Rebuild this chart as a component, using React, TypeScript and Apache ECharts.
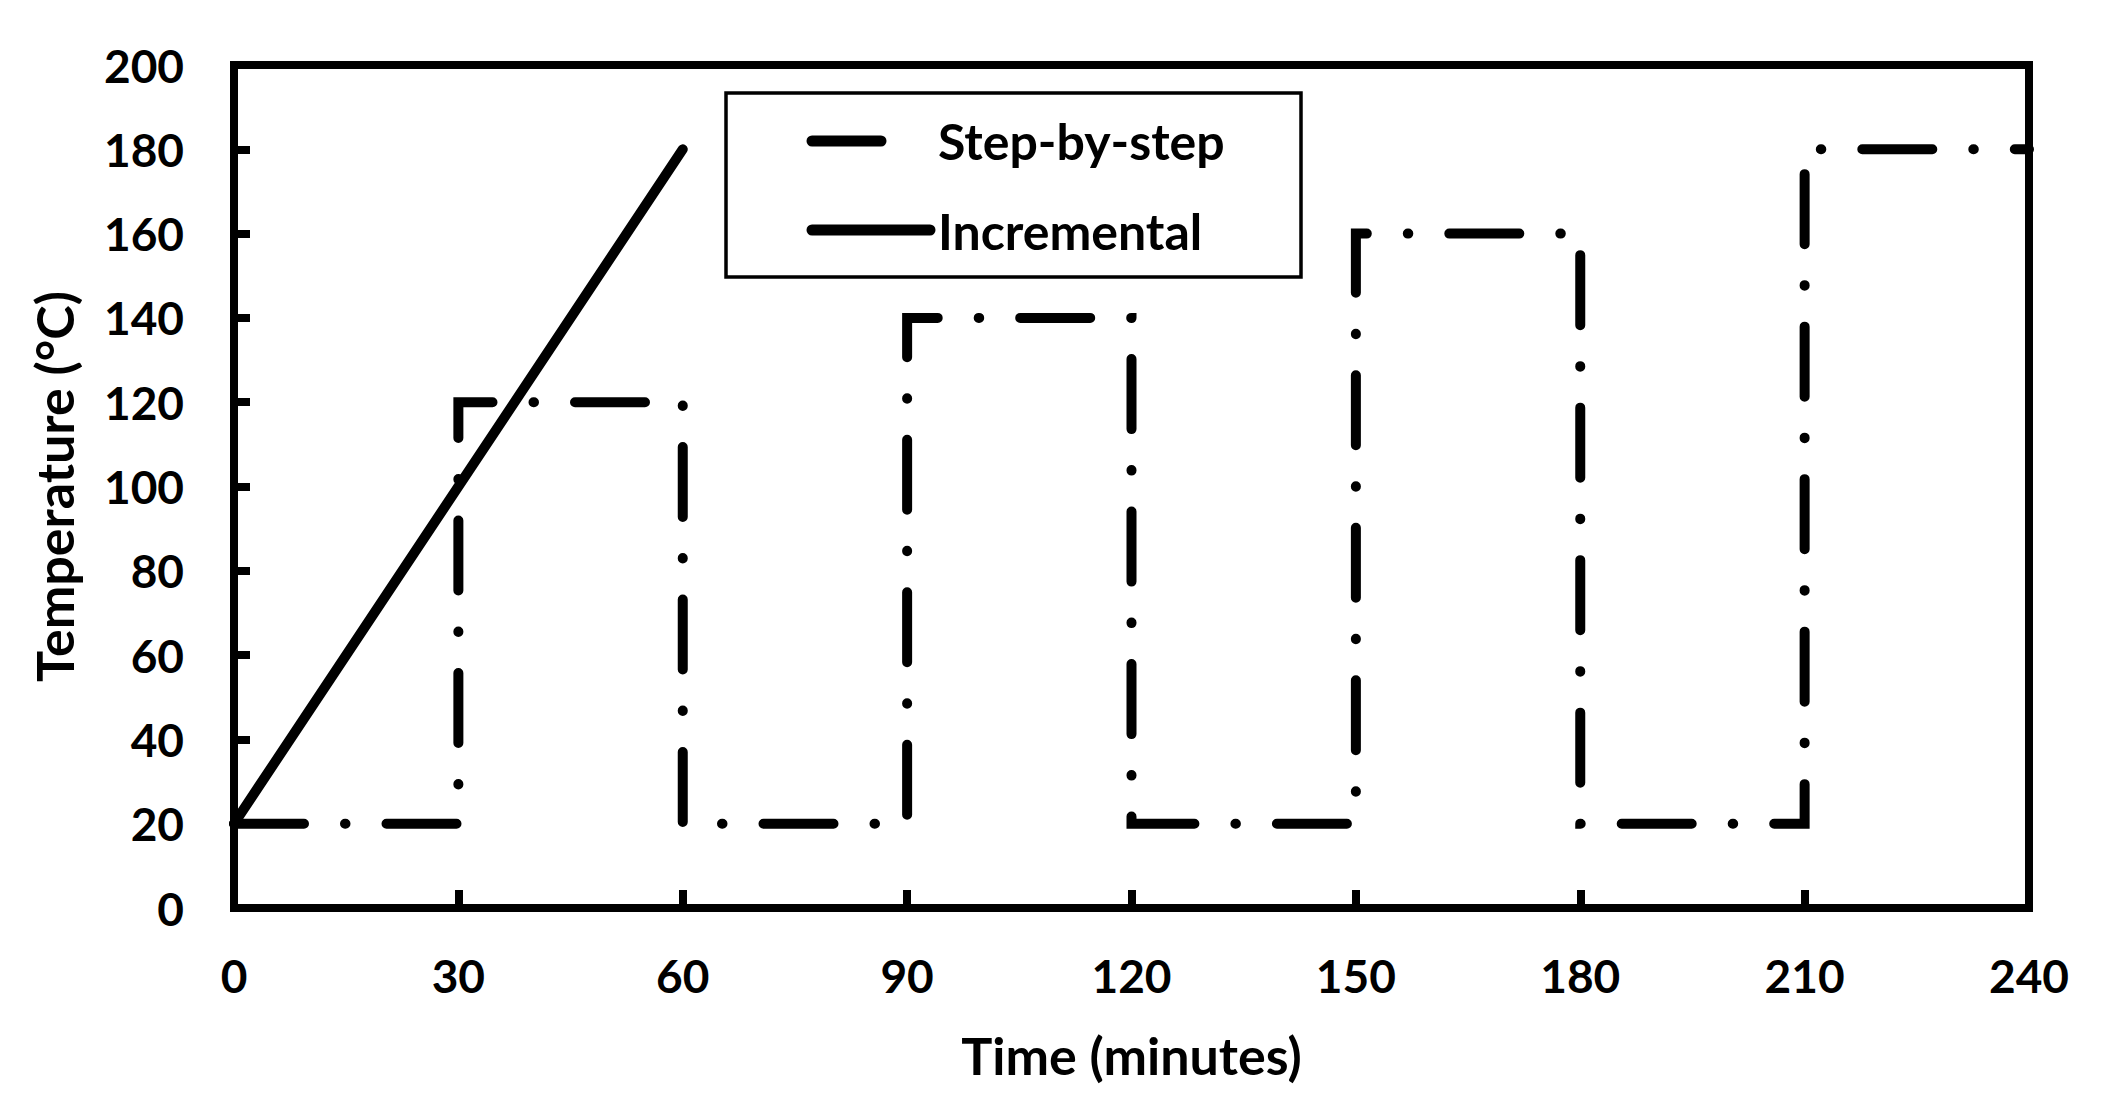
import React, { useEffect, useRef } from "react";
import * as echarts from "echarts";

const stepTimes = [0, 30, 30, 60, 60, 90, 90, 120, 120, 150, 150, 180, 180, 210, 210, 240];
const stepTemps = [20, 20, 120, 120, 20, 20, 140, 140, 20, 20, 160, 160, 20, 20, 180, 180];
const incTimes = [0, 60];
const incTemps = [20, 180];
const legendNames = ["Step-by-step", "Incremental"];
const xTitle = "Time (minutes)";
const yTitle = "Temperature (°C)";

const FONT = "Lato";

export default function App() {
  const ref = useRef<HTMLDivElement>(null);
  useEffect(() => {
    if (!ref.current) return;
    const chart = echarts.init(ref.current, undefined, { renderer: "svg" });
    const txt = { fontFamily: FONT, fontWeight: "bold" as const, fontSize: 46, color: "#000" };
    const titleTxt = { ...txt, fontSize: 52 };
    chart.setOption({
      animation: false,
      backgroundColor: "#fff",
      grid: {
        left: 234,
        top: 65,
        width: 1795,
        height: 843,
        show: true,
        borderColor: "#000",
        borderWidth: 8,
        backgroundColor: "transparent",
      },
      xAxis: {
        type: "value",
        min: 0,
        max: 240,
        interval: 30,
        name: xTitle,
        nameLocation: "middle",
        nameGap: 121,
        nameTextStyle: titleTxt,
        axisLine: { show: true, lineStyle: { color: "#000", width: 8 } },
        axisTick: { show: true, inside: true, length: 18, lineStyle: { color: "#000", width: 8 } },
        axisLabel: { ...txt, margin: 44 },
        splitLine: { show: false },
      },
      yAxis: {
        type: "value",
        min: 0,
        max: 200,
        interval: 20,
        name: yTitle,
        nameLocation: "middle",
        nameRotate: 90,
        nameGap: 154,
        nameTextStyle: titleTxt,
        axisLine: { show: true, lineStyle: { color: "#000", width: 8 } },
        axisTick: { show: true, inside: true, length: 16, lineStyle: { color: "#000", width: 8 } },
        axisLabel: { ...txt, margin: 50 },
        splitLine: { show: false },
      },
      series: [
        {
          name: legendNames[0],
          type: "line",
          data: stepTimes.map((t, i) => [t, stepTemps[i]]),
          showSymbol: false,
          symbol: "none",
          clip: false,
          lineStyle: {
            color: "#000",
            width: 10,
            type: [70, 41, 0.5, 41],
            cap: "round",
            join: "miter",
          },
          z: 3,
        },
        {
          name: legendNames[1],
          type: "line",
          data: incTimes.map((t, i) => [t, incTemps[i]]),
          showSymbol: false,
          symbol: "none",
          clip: false,
          lineStyle: { color: "#000", width: 10, type: "solid", cap: "round" },
          z: 4,
        },
      ],
      graphic: [
        {
          type: "rect",
          z: 10,
          shape: { x: 726, y: 93, width: 575, height: 184 },
          style: { fill: "#fff", stroke: "#000", lineWidth: 3.5 },
        },
        {
          type: "line",
          z: 11,
          shape: { x1: 812, y1: 141, x2: 881, y2: 141 },
          style: { stroke: "#000", lineWidth: 11, lineCap: "round" },
        },
        {
          type: "line",
          z: 11,
          shape: { x1: 812, y1: 230, x2: 930, y2: 230 },
          style: { stroke: "#000", lineWidth: 11, lineCap: "round" },
        },
        {
          type: "text",
          z: 11,
          x: 938,
          y: 141,
          style: {
            text: legendNames[0],
            fill: "#000",
            font: `bold 50px ${FONT}`,
            textVerticalAlign: "middle",
            verticalAlign: "middle",
          },
        },
        {
          type: "text",
          z: 11,
          x: 938,
          y: 231,
          style: {
            text: legendNames[1],
            fill: "#000",
            font: `bold 50px ${FONT}`,
            textVerticalAlign: "middle",
            verticalAlign: "middle",
          },
        },
      ],
    });
    return () => chart.dispose();
  }, []);
  return (
    <div
      ref={ref}
      style={{ position: "fixed", left: 0, top: 0, width: 2120, height: 1120, background: "#fff" }}
    />
  );
}
